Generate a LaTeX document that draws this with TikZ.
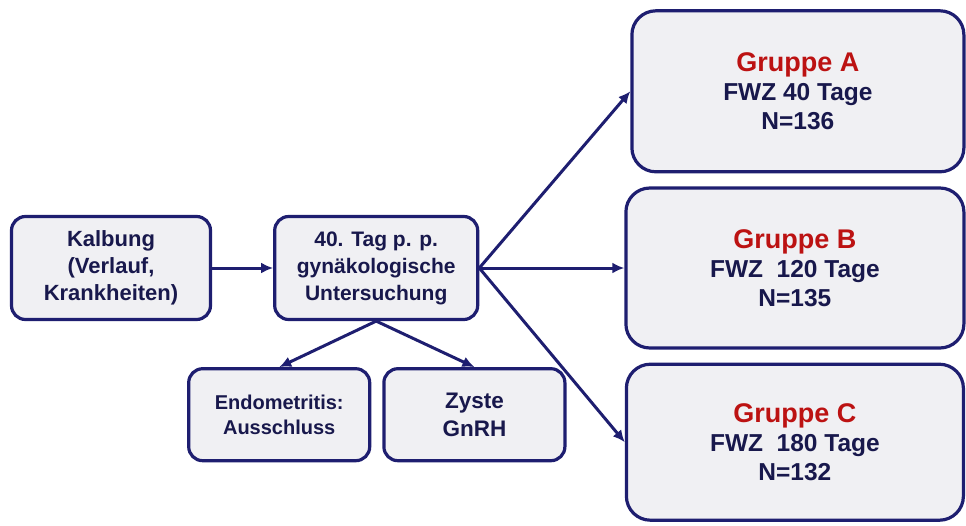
\documentclass[tikz,border=0pt]{standalone}
\usepackage{fontspec}
\setmainfont{Liberation Sans}
\usepackage{xcolor}
\usepackage{tikz}
\usetikzlibrary{positioning,arrows.meta}
\definecolor{navy}{RGB}{30,30,112}
\definecolor{ink}{RGB}{24,24,76}
\definecolor{grpred}{RGB}{188,18,18}
\definecolor{boxfill}{RGB}{240,240,243}

\begin{document}
\begin{tikzpicture}[
    box/.style={draw=navy, fill=boxfill, line width=3.2pt, rounded corners=14pt, align=center, text=ink, font=\fontsize{21}{27}\selectfont\bfseries},
    grp/.style={box, rounded corners=24pt, font=\fontsize{24.5}{29}\selectfont\bfseries},
    arr/.style={draw=navy, line width=3pt, -{Latex[length=12pt,width=11pt]}}
]
    \useasboundingbox (0,0) rectangle (966pt,-525pt);

    \node (kalb) [box, minimum width=199pt, minimum height=103pt, font=\fontsize{22}{27}\selectfont\bfseries] at (111pt,-268pt) {Kalbung\\(Verlauf,\\Krankheiten)};
    \node (tag) [box, minimum width=203pt, minimum height=103pt, right=61pt of kalb] {40. Tag p. p.\\gynäkologische\\Untersuchung};

    \node (endo) [box, minimum width=181pt, minimum height=92pt, below=46pt of tag, xshift=-97pt, font=\fontsize{20}{25}\selectfont\bfseries] {Endometritis:\\Ausschluss};
    \node (zyste) [box, minimum width=181pt, minimum height=92pt, right=11pt of endo, font=\fontsize{22.5}{28}\selectfont\bfseries] {Zyste\\GnRH};

    \node (grpB) [grp, minimum width=338pt, minimum height=160pt, right=145pt of tag] {\textcolor{grpred}{\fontsize{27}{31}\selectfont Gruppe B}\\FWZ\ \ 120 Tage\\N=135};
    \node (grpA) [grp, minimum width=332pt, minimum height=161pt, above=13pt of grpB, xshift=3pt] {\textcolor{grpred}{\fontsize{27}{31}\selectfont Gruppe A}\\FWZ 40 Tage\\N=136};
    \node (grpC) [grp, minimum width=337pt, minimum height=156pt, below=13pt of grpB] {\textcolor{grpred}{\fontsize{27}{31}\selectfont Gruppe C}\\FWZ\ \ 180 Tage\\N=132};

    \draw[arr] (kalb) -- (tag);
    \draw[arr] (tag.east) -- (grpA.west);
    \draw[arr] (tag.east) -- (grpB.west);
    \draw[arr] (tag.east) -- (grpC.west);
    \draw[arr] (tag.south) -- (endo.north);
    \draw[arr] (tag.south) -- (zyste.north);

\end{tikzpicture}
\end{document}
